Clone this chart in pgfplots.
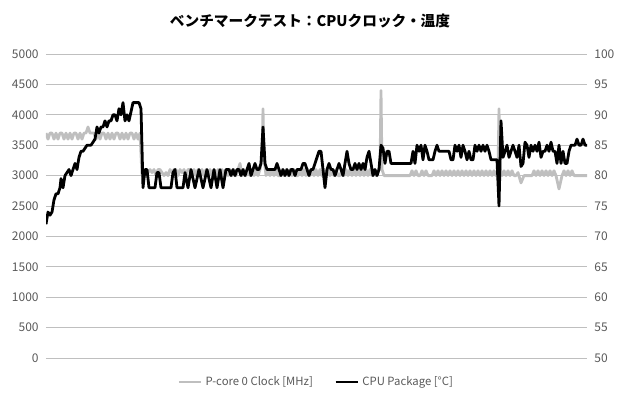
\documentclass[border=0pt]{standalone}
\usepackage{pgfplots}
\pgfplotsset{compat=1.18}
\usepackage{fontspec}
\setmainfont{Noto Sans CJK JP}
\definecolor{clk}{HTML}{BFBFBF}
\definecolor{grid}{HTML}{D9D9D9}
\definecolor{tick}{HTML}{595959}
\begin{document}
\begin{tikzpicture}
\pgfplotsset{
  base/.style={
    at={(0,0)}, anchor=south west,
    scale only axis, width=405.75pt, height=228pt,
    xmin=46, xmax=587, enlargelimits=false,
    axis x line=none,
    xtick=\empty,
    major tick length=0pt,
    tick label style={font=\fontsize{9}{10}\selectfont, text=tick},
    /pgf/number format/assume math mode=true,
    /pgf/number format/1000 sep={},
  }
}
\begin{axis}[base,
  ymin=0, ymax=5000, ytick={0,500,...,5000},
  axis y line*=left, y axis line style={draw=none},
  ymajorgrids, grid style={grid, line width=0.75pt},
  yticklabel style={xshift=-2pt},
]
\addplot[clk, line width=2.1pt, line join=round] coordinates {
(46,3700)(48,3600)(50,3700)(52,3700)(54,3600)(56,3700)(58,3600)(60,3700)(62,3700)(64,3600)(66,3700)(68,3600)(70,3700)(72,3600)(74,3700)(76,3700)(78,3600)(80,3700)(82,3600)(84,3700)(86,3700)(88,3800)(90,3700)(92,3700)(94,3700)(96,3600)(98,3700)(100,3600)(102,3700)(104,3700)(106,3600)(108,3700)(110,3600)(112,3700)(114,3600)(116,3700)(118,3700)(120,3600)(122,3700)(124,3600)(126,3700)(128,3600)(130,3700)(132,3700)(134,3600)(136,3700)(138,3600)(140,3700)
(142,3000)(144,3050)(146,3000)(148,3050)(150,3100)(152,3050)(154,3100)(156,3000)(158,3100)(160,3100)(162,3050)(164,3000)(166,3050)(168,3000)(170,3100)(172,3050)(174,3100)(176,3100)(178,3000)(180,3100)(182,3050)(184,3100)(186,3000)(188,3100)(190,3100)(192,3000)(194,3100)(196,3000)(198,3100)(200,3000)(202,3100)(204,3000)(206,3100)(208,3000)(210,3100)(212,3000)(214,3100)(216,3000)(218,3100)(220,3000)(222,3100)(224,3000)(226,3100)(228,3000)(230,3100)(232,3000)(234,3100)(236,3000)(238,3100)(240,3200)(242,3000)(244,3100)(246,3000)(248,3100)(250,3000)(252,3100)(254,3000)(256,3100)(258,3000)(260,3100)(262,3300)(263,4100)(264,3300)(266,3000)(268,3100)
(270,3000)(272,3100)(274,3000)(276,3100)(278,3000)(280,3000)(282,3100)(284,3000)(286,3100)(288,3000)(290,3100)(292,3000)(294,3100)(296,3000)(298,3000)(300,3100)(302,3000)(304,3100)(306,3000)(308,3100)(310,3000)(312,3100)(314,3000)(316,3100)(318,3000)(320,3100)(322,3000)(324,3100)(326,3000)(328,3100)(330,3000)(332,3100)(334,3000)(336,3100)(338,3000)(340,3000)(342,3100)(344,3000)(346,3100)(348,3000)(350,3100)(352,3000)(354,3100)(356,3000)(358,3100)(360,3000)(362,3100)(364,3000)(366,3100)(368,3000)(370,3100)(372,3000)(374,3100)(376,3000)(378,3100)(380,3100)(381,4400)(382,3100)(384,3000)(410,3000)
(412,3080)(414,3000)(416,3080)(418,3000)(420,3000)(422,3080)(424,3000)(426,3080)(428,3000)(430,3000)(432,3000)(434,3080)(436,3000)(438,3080)(440,3000)(442,3080)(444,3000)(446,3080)(448,3000)(450,3080)(452,3000)(454,3080)(456,3000)(458,3080)(460,3000)(462,3080)(464,3000)(466,3080)(468,3000)(470,3080)(472,3000)(474,3080)(476,3000)(478,3080)(480,3000)(482,3080)(484,3000)(486,3080)(488,3000)(490,3080)(492,3000)(494,3080)(496,3000)(498,3100)(499,4100)(500,3100)(502,3000)(504,3080)(506,3000)(508,3080)(510,3000)(512,3080)(514,3000)(516,3000)(518,3050)(521,2880)(524,3000)(526,3000)(528,3000)(530,3000)(532,3000)(534,3080)(536,3000)(538,3080)(540,3000)(542,3080)(544,3000)(546,3080)(548,3000)(550,3080)(552,3000)(554,3080)(556,3000)(559,2780)(562,3000)(564,3080)(566,3000)(568,3080)(570,3000)(572,3080)(574,3000)(576,3000)(578,3000)(580,3000)(582,3000)(584,3000)(587,3000)
};
\end{axis}
\begin{axis}[base,
  ymin=50, ymax=100, ytick={50,55,...,100},
  axis y line*=right, y axis line style={draw=none},
  yticklabel style={xshift=2pt},
  legend columns=2,
  legend style={at={(0.5,-0.079)}, anchor=center, draw=none, fill=none,
    font=\fontsize{8.5}{10}\selectfont, text=tick,
    /tikz/every even column/.append style={column sep=14pt}},
  legend image code/.code={\draw[#1, line width=2.1pt] (0pt,0pt) -- (17pt,0pt);},
]
\addlegendimage{clk}
\addlegendentry{P-core 0 Clock [MHz]}
\addplot[black, line width=2.1pt, line join=round] coordinates {
(46,72)(48,74)(50,73.5)(52,74)(54,76)(56,77)(58,77)(60,78)(61,79.5)(63,78)(65,80)(67,80.5)(69,81)(71,80)(73,81)(75,82)(77,81)(79,83)(81,84)(83,84)(85,84.5)(87,85)(89,85)(91,85)(93,85.5)(95,86)(97,88)(99,87)(101,88)(103,88)(105,89)(107,88)(109,89)(111,89)(113,90)(115,90)(117,89)(119,91)(121,90)(123,92)(125,89)(127,90)(129,89)(131,90.5)(133,92)(135,92)(137,92)(139,92)(141,91)
(143,78)(145,81)(147,81)(149,78)(151,78)(153,78)(155,78)(157,80.5)(159,80.5)(161,78)(163,78)(165,78)(167,78)(169,78)(171,78)(173,80.5)(175,81)(177,78)(179,78)(181,78)(183,78)(185,80.5)(188,78)(191,81)(195,78)(199,81)(203,78)(207,81)(211,78)(214,81)(217,78)(220,81)(223,78)(226,81)(229,81)
(231,80)(233,81)(235,80)(237,81)(239,81)(241,80)(243,81)(245,80)(247,81)(249,82)(251,80)(253,81)(255,82)(257,81)(259,81)(261,82)(263,88)(265,82)(267,81)(269,81)(271,81)(273,81)(275,81)(277,82)(279,81)(281,80)(283,81)(285,80)(287,81)(289,80)(291,81)(293,81)(295,80)(297,81)(299,81)(301,81)(303,82)(305,82)(307,81)(309,80)(311,81)(313,81)(315,82)(317,83)(319,84)(321,84)(323,81)(325,78)(327,81)(329,82)
(331,81)(333,81)(335,80)(337,81)(339,82)(341,81)(343,80)(345,82)(347,84)(349,82)(351,81)(353,81)(355,82)(357,81)(359,82)(361,81)(363,82)(365,81)(367,83)(369,84)(371,82)(373,80)(375,81)(377,80)(379,81)(381,85)(383,84.5)(385,82)(387,84)(389,84)(391,82)(410,82)
(411,82)(413,84)(415,82)(417,85)(419,84)(421,85)(423,82.6)(425,85)(427,84)(429,82.6)(431,82.6)(433,82.6)(435,84)(437,85)(439,84)(441,84)(443,84)(445,84)(447,84)(449,84)(451,82.6)(453,82.6)(455,85)(457,84)(459,85)(461,83)(463,85)(465,84)(467,82.6)(469,84)(471,82.6)(473,82.6)(475,85)(477,84)(479,85)(481,84)(483,85)(485,84)(487,85)(489,84)(491,82.6)(493,82.6)(495,82.6)(497,82.6)(499,75)(501,89)(503,83)
(505,84)(507,85)(509,83)(511,84)(513,85)(515,84)(517,83)(519,85)(521,81.5)(523,82)(525,85.5)(527,85)(529,83)(531,85)(533,84)(535,85)(537,84)(539,85.5)(541,83)(543,84)(545,84)(547,85)(549,84)(551,85.5)(553,84)(555,84)(557,82)(559,85)(561,82)(563,84)(565,82)(567,82)(569,84)(571,85)(573,85)(575,85)(577,86)(579,85)(581,85)(583,86)(585,85)(587,85)
};
\addlegendentry{CPU Package [°C]}
\end{axis}
\node[font=\fontsize{11}{13}\selectfont\bfseries] at (198pt,253pt) {ベンチマークテスト：CPUクロック・温度};
\path (-34.5pt,-31.5pt) rectangle (430.5pt,268.5pt);
\end{tikzpicture}
\end{document}
